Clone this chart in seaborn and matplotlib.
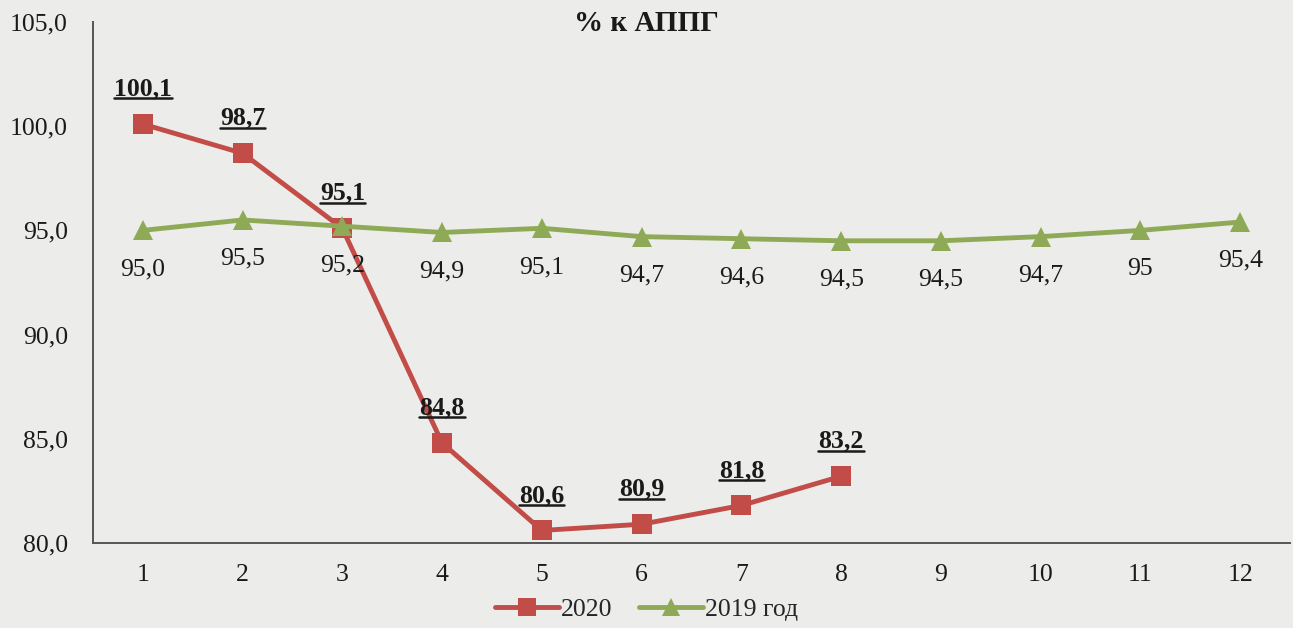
import pandas as pd
import numpy as np
import matplotlib.pyplot as plt
import seaborn as sns
from matplotlib.lines import Line2D

# Data
months = list(range(1, 13))
vals_2020 = [100.1, 98.7, 95.1, 84.8, 80.6, 80.9, 81.8, 83.2]
vals_2019 = [95.0, 95.5, 95.2, 94.9, 95.1, 94.7, 94.6, 94.5, 94.5, 94.7, 95.0, 95.4]
labels_2020 = ['100,1', '98,7', '95,1', '84,8', '80,6', '80,9', '81,8', '83,2']
labels_2019 = ['95,0', '95,5', '95,2', '94,9', '95,1', '94,7', '94,6', '94,5', '94,5', '94,7', '95', '95,4']
y_ticks = [80.0, 85.0, 90.0, 95.0, 100.0, 105.0]
series_names = ['2020', '2019 год']

RED = '#C24C47'
GREEN = '#8FAA57'
BG = '#ECECEA'
TXT = '#1a1a1a'

df = pd.concat([
    pd.DataFrame({'month': months[:len(vals_2020)], 'value': vals_2020, 'series': series_names[0]}),
    pd.DataFrame({'month': months, 'value': vals_2019, 'series': series_names[1]}),
])

sns.set_style('white')
plt.rcParams['font.family'] = ['Liberation Serif', 'DejaVu Serif']

fig = plt.figure(figsize=(12.93, 6.28), dpi=100, facecolor=BG)
ax = fig.add_axes([0.0719, 0.1354, 0.9258, 0.8296])
ax.set_facecolor(BG)

sns.lineplot(data=df, x='month', y='value', hue='series', style='series',
             palette={series_names[0]: RED, series_names[1]: GREEN},
             markers={series_names[0]: 's', series_names[1]: '^'},
             dashes=False, linewidth=3.5, markersize=14, markeredgewidth=0,
             ax=ax, legend=False, zorder=3)

ax.set_xlim(0.5, 12.5)
ax.set_ylim(80, 105)
ax.set_xticks(months)
ax.set_xticklabels([str(m) for m in months], fontsize=18.5, color=TXT)
ax.set_yticks(y_ticks)
ax.set_yticklabels([f'{t:.1f}'.replace('.', ',') for t in y_ticks], fontsize=18.5, color=TXT)
ax.tick_params(axis='x', length=0, pad=15)
ax.tick_params(axis='y', length=0, pad=18)
ax.set_xlabel('')
ax.set_ylabel('')
sns.despine(ax=ax)
for side in ['left', 'bottom']:
    ax.spines[side].set_color('#555555')
    ax.spines[side].set_linewidth(1.4)

# data labels
texts_2020 = []
for m, v, lab in zip(months, vals_2020, labels_2020):
    t = ax.annotate(lab, (m, v), xytext=(0, 17), textcoords='offset points',
                    ha='center', va='bottom', fontsize=18.5, fontweight='bold', color=TXT)
    texts_2020.append(t)
for m, v, lab in zip(months, vals_2019, labels_2019):
    ax.annotate(lab, (m, v), xytext=(0, -20), textcoords='offset points',
                ha='center', va='top', fontsize=18.5, color=TXT)

# underline the 2020 labels
fig.canvas.draw()
renderer = fig.canvas.get_renderer()
for t in texts_2020:
    bb = t.get_window_extent(renderer)
    y0 = bb.y0 + 2
    fig.add_artist(Line2D([bb.x0 / fig.bbox.width, bb.x1 / fig.bbox.width],
                          [y0 / fig.bbox.height, y0 / fig.bbox.height],
                          transform=fig.transFigure, color=TXT, linewidth=1.8))

fig.text(0.5, 0.962, '% к АППГ', ha='center', va='center', fontsize=21, fontweight='bold', color=TXT)

handles = [Line2D([], [], color=RED, marker='s', linewidth=3.5, markersize=13, markeredgewidth=0),
           Line2D([], [], color=GREEN, marker='^', linewidth=3.5, markersize=13, markeredgewidth=0)]
fig.legend(handles, series_names, loc='lower center', bbox_to_anchor=(0.5, -0.018), ncol=2,
           frameon=False, fontsize=18.5, handlelength=2.5, handletextpad=0.1, columnspacing=1.0,
           borderpad=0.2)

fig.savefig('out.png', dpi=100, facecolor=BG)
